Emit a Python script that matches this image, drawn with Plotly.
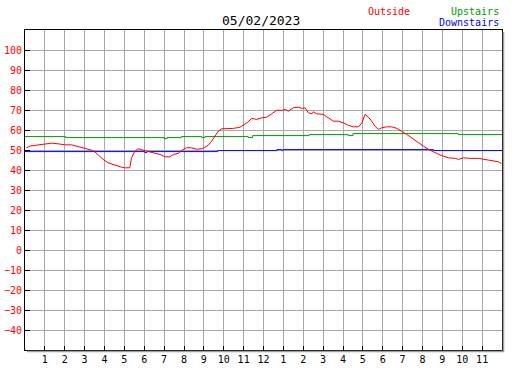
import plotly.graph_objects as go

# ---- data (hours since midnight, degrees) ----
outside_hours = [0.07, 0.24, 0.57, 0.99, 1.33, 1.66, 2.00, 2.34, 2.67, 3.01, 3.35, 3.51, 3.68, 3.93,
                 4.18, 4.52, 4.86, 5.02, 5.27, 5.36, 5.53, 5.69, 5.86, 6.03, 6.20, 6.45, 6.79, 7.04,
                 7.29, 7.46, 7.71, 7.88, 8.13, 8.38, 8.63, 8.89, 9.05, 9.22, 9.39, 9.56, 9.72, 9.89,
                 10.23, 10.48, 10.65, 10.82, 10.98, 11.23, 11.41, 11.66, 11.91, 12.16, 12.41, 12.67,
                 12.92, 13.08, 13.25, 13.50, 13.75, 13.95, 14.09, 14.26, 14.43, 14.51, 14.68, 15.01,
                 15.26, 15.52, 15.77, 16.02, 16.27, 16.52, 16.78, 16.95, 17.11, 17.28, 17.45, 17.61,
                 17.78, 17.95, 18.20, 18.45, 18.71, 18.96, 19.21, 19.38, 19.55, 19.80, 20.05, 20.30,
                 20.55, 20.81, 21.06, 21.31, 21.65, 21.81, 22.07, 22.40, 22.82, 23.16, 23.49, 23.83,
                 23.98]
outside_temps = [51.1, 51.9, 52.4, 53.1, 53.4, 53.1, 52.6, 52.6, 51.8, 50.9, 49.9, 49.1, 47.4, 45.3,
                 43.6, 42.4, 41.4, 41.1, 41.1, 46.1, 49.4, 50.6, 50.1, 49.8, 49.4, 48.6, 47.8, 46.6,
                 46.6, 47.8, 48.3, 49.8, 51.1, 51.1, 50.4, 50.6, 51.4, 52.4, 54.4, 57.3, 59.4, 60.6,
                 60.6, 60.8, 61.1, 61.4, 62.4, 64.1, 65.8, 65.3, 66.1, 66.4, 68.1, 69.9,
                 69.8, 70.3, 69.4, 71.1, 71.4, 70.8, 71.1, 68.6, 68.1, 69.1, 68.1, 67.8,
                 66.1, 64.4, 64.4, 63.6, 62.3, 61.6, 61.6, 63.6, 67.8, 66.4, 64.4, 61.9,
                 60.3, 61.1, 61.6, 61.6, 60.8, 59.4, 57.8, 56.6, 55.3, 53.6, 51.9, 50.3,
                 48.9, 47.8, 46.9, 46.1, 45.8, 45.3, 46.1, 45.8, 45.8, 45.3, 44.8, 44.1,
                 43.1]

upstairs_hours = [0.0, 2.05, 7.00, 7.15, 7.86, 8.89, 9.05, 11.23, 11.45, 14.30, 16.27, 16.50, 21.80, 24.0]
upstairs_temps = [56.7, 56.2, 55.7, 56.2, 56.7, 56.2, 56.7, 56.2, 57.2, 57.7, 57.2, 58.2, 57.7, 57.7]

downstairs_hours = [0.0, 6.03, 6.13, 9.70, 12.67, 12.92, 12.98, 20.55, 24.0]
downstairs_temps = [49.2, 48.7, 49.2, 49.7, 50.2, 49.7, 50.2, 49.7, 49.7]

hour_ticks = list(range(1, 24))
hour_labels = ["1", "2", "3", "4", "5", "6", "7", "8", "9", "10", "11", "12",
               "1", "2", "3", "4", "5", "6", "7", "8", "9", "10", "11"]
temp_ticks = list(range(-40, 101, 10))

title_text = "05/02/2023"

# ---- figure ----
W, H = 527, 370
L, R, T, B = 25, 25, 30, 20
PW, PH = W - L - R, H - T - B
MONO = "DejaVu Sans Mono"


def px(x):
    return (x - L) / PW


def py(y):
    return (H - B - y) / PH


fig = go.Figure()
fig.add_trace(go.Scatter(x=upstairs_hours, y=upstairs_temps, mode="lines", line_shape="hv",
                         line=dict(color="#009900", width=1), name="Upstairs", hoverinfo="skip"))
fig.add_trace(go.Scatter(x=downstairs_hours, y=downstairs_temps, mode="lines", line_shape="hv",
                         line=dict(color="#0000ff", width=1), name="Downstairs", hoverinfo="skip"))
fig.add_trace(go.Scatter(x=outside_hours, y=outside_temps, mode="lines",
                         line=dict(color="#ff0000", width=1), name="Outside", hoverinfo="skip"))

fig.update_layout(
    width=W, height=H,
    margin=dict(l=L, r=R, t=T, b=B, pad=0, autoexpand=False),
    paper_bgcolor="white", plot_bgcolor="white",
    showlegend=False,
    font=dict(family=MONO, size=10, color="black"),
    xaxis=dict(range=[0, 24], tickvals=hour_ticks, ticktext=hour_labels, automargin=False,
               showgrid=True, gridcolor="#a8a8a8", gridwidth=1,
               ticks="inside", ticklen=4, tickcolor="black", tickwidth=1,
               showline=True, linecolor="black", linewidth=1, mirror=True,
               zeroline=False, tickfont=dict(family=MONO, size=10, color="black")),
    yaxis=dict(range=[-50, 110], tickvals=temp_ticks, automargin=False,
               showgrid=True, gridcolor="#a8a8a8", gridwidth=1,
               ticks="inside", ticklen=5, tickcolor="black", tickwidth=1,
               showline=True, linecolor="black", linewidth=1, mirror=True,
               zeroline=False, tickfont=dict(family=MONO, size=10, color="#ff0000")),
)

# drop shadow of the frame (bottom and right)
fig.add_shape(type="line", xref="paper", yref="paper",
              x0=px(L + 2), x1=px(L + PW + 2), y0=py(H - B + 1.5), y1=py(H - B + 1.5),
              line=dict(color="#a0a0a0", width=1.5))
fig.add_shape(type="line", xref="paper", yref="paper",
              x0=px(L + PW + 1.5), x1=px(L + PW + 1.5), y0=py(T + 2), y1=py(H - B + 2),
              line=dict(color="#a0a0a0", width=1.5))

fig.add_annotation(text=title_text, xref="paper", yref="paper", x=px(261), y=py(20),
                   xanchor="center", yanchor="middle", showarrow=False,
                   font=dict(family=MONO, size=13, color="black"))
fig.add_annotation(text="Outside", xref="paper", yref="paper", x=px(412), y=py(11),
                   xanchor="right", yanchor="middle", showarrow=False,
                   font=dict(family=MONO, size=10, color="#ff0000"))
fig.add_annotation(text="Upstairs", xref="paper", yref="paper", x=px(501), y=py(11),
                   xanchor="right", yanchor="middle", showarrow=False,
                   font=dict(family=MONO, size=10, color="#009900"))
fig.add_annotation(text="Downstairs", xref="paper", yref="paper", x=px(501), y=py(23),
                   xanchor="right", yanchor="middle", showarrow=False,
                   font=dict(family=MONO, size=10, color="#0000ff"))

fig.write_html("out.html", config={"displayModeBar": False},
               post_script="document.body.style.margin='0';document.body.style.overflow='hidden';")
